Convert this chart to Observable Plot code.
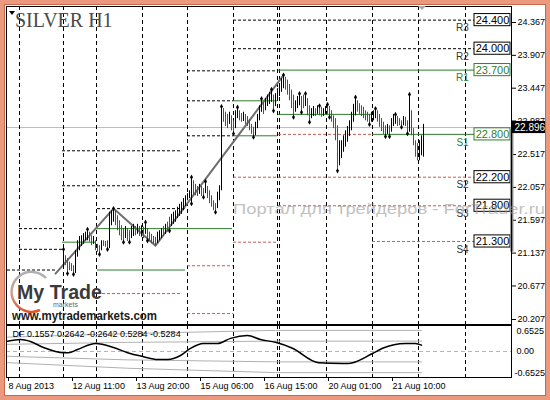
<!DOCTYPE html>
<html><head><meta charset="utf-8">
<script src="https://cdn.jsdelivr.net/npm/d3@7"></script>
<script src="https://cdn.jsdelivr.net/npm/@observablehq/plot@0.6"></script>
<style>
html,body{margin:0;padding:0;background:#fff;}
#wrap{position:relative;width:550px;height:400px;overflow:hidden;background:#fff;}
#main{position:absolute;left:0;top:0;}
#ind{position:absolute;left:0;top:324px;}
#overlay{position:absolute;left:0;top:0;pointer-events:none;}
#border{position:absolute;left:0;top:0;width:550px;height:400px;box-sizing:border-box;border:4px solid #ea987e;box-shadow:inset 0 0 0 1px #c8674b;pointer-events:none;}
</style></head><body>
<div id="wrap"><div id="main"></div><div id="ind"></div><svg id="overlay" width="550" height="400"></svg><div id="border"></div></div>
<script>
// ---------- DATA ----------
const chartTitle = "SILVER H1";
const barStart = 28; // first hourly slot
const barHigh = [
21.19,21.10,21.06,21.01,20.99,20.96,21.17,21.31,21.37,21.38,
21.41,21.43,21.47,21.43,21.38,21.37,21.31,21.26,21.24,21.31,
21.31,21.30,21.31,21.71,21.73,21.76,21.73,21.66,21.59,21.52,
21.48,21.51,21.48,21.45,21.51,21.54,21.51,21.54,21.51,21.52,
21.50,21.57,21.48,21.43,21.40,21.37,21.36,21.43,21.45,21.48,
21.51,21.54,21.57,21.64,21.68,21.71,21.73,21.78,21.82,21.85,
21.90,21.94,21.97,22.01,22.20,22.15,22.10,22.07,22.10,22.07,
22.04,22.14,22.07,22.01,21.94,21.87,21.83,21.99,22.08,23.19,
23.16,23.11,23.08,23.11,23.06,22.99,23.13,23.18,23.13,23.09,
23.11,23.08,23.05,23.01,22.94,22.90,22.97,23.08,23.20,23.30,
23.25,23.30,23.35,23.39,23.43,23.35,23.37,23.44,23.50,23.58,
23.63,23.60,23.56,23.50,23.42,23.35,23.27,23.33,23.37,23.33,
23.35,23.37,23.30,23.20,23.16,23.19,23.16,23.20,23.20,23.18,
23.16,23.19,23.22,23.19,23.13,23.06,23.02,22.92,22.71,22.71,
22.78,22.85,22.91,22.99,23.11,23.22,23.32,23.27,23.23,23.20,
23.18,23.13,23.11,23.08,23.11,23.13,23.16,23.13,23.08,23.02,
22.97,22.92,22.94,22.92,23.02,23.08,23.08,23.05,23.02,22.99,
23.05,23.04,22.99,23.36,23.13,22.88,22.71,22.67,22.71,22.78,
22.94];
const barLow = [
20.94,20.96,20.85,20.89,20.88,20.84,20.85,21.08,21.17,21.23,
21.26,21.31,21.31,21.29,21.24,21.26,21.17,21.15,21.12,21.17,
21.23,21.22,21.19,21.20,21.52,21.57,21.52,21.45,21.38,21.31,
21.29,21.34,21.30,21.29,21.34,21.37,21.38,21.40,21.37,21.36,
21.34,21.40,21.31,21.30,21.27,21.26,21.24,21.27,21.31,21.34,
21.37,21.40,21.43,21.45,21.51,21.54,21.57,21.62,21.65,21.68,
21.73,21.79,21.87,21.90,21.83,21.94,21.94,21.93,21.96,21.93,
21.92,21.97,21.90,21.83,21.78,21.73,21.71,21.76,21.87,22.01,
22.97,22.91,22.88,22.94,22.85,22.81,22.88,23.02,22.99,22.97,
22.98,22.94,22.91,22.85,22.80,22.76,22.78,22.88,22.99,23.11,
23.08,23.13,23.19,23.22,23.25,23.13,23.19,23.27,23.33,23.39,
23.44,23.42,23.35,23.27,23.16,23.04,23.11,23.16,23.20,23.11,
23.16,23.19,23.06,22.97,23.02,23.05,23.05,23.08,23.06,23.04,
23.05,23.08,23.08,23.04,22.97,22.88,22.71,22.29,22.36,22.46,
22.55,22.62,22.69,22.77,22.85,22.97,23.06,23.11,23.08,23.05,
23.02,22.99,22.97,22.94,22.97,22.99,23.02,22.97,22.90,22.84,
22.80,22.77,22.80,22.77,22.83,22.91,22.94,22.91,22.92,22.90,
22.92,22.91,22.81,22.83,22.78,22.64,22.48,22.43,22.43,22.50,
22.48];
const barDir = [
"uddddduuuu","uuuddudddu","ddduuudddd","dudduududu","duddddduuu",
"dudduuuuuu","uuuuudddud","duddddduuu","dddudduudd","uddddduuuu",
"duuuuduuuu","uddddduuud","dudduududd","uudddddduu","uuuuuuuddd",
"dddduuuddd","dduduuuddd","uddudddduu","u"].join("");
const fractalHighSlots = [28,40,53,69,92,99,107,115,127,132,138,146,149,156,160,174,184,194,201];
const fractalLowSlots = [30,33,46,50,58,61,70,81,92,98,104,113,123,133,143,147,151,161,165,181,189,191,197,200];
const zigzagSlot = [24,53,74,138];
const zigzagPrice = [20.85,21.76,21.24,23.63];
const separatorSlots = [6,28,44.5,67.5,90,113,135,136,159.5,182.5,205.5,229];
const levelPrice = [21.48,21.19,20.90,22.57,22.08,21.76,23.69,23.27,22.78,24.40,24.00,
                    21.29,21.48,20.90,23.27,22.78,23.70,23.08,22.80,
                    20.57,20.96,20.29,22.20,21.29,21.30,22.80,21.80];
const levelFrom  = [6,6,0,27.5,27.5,45,90,90,90,113,113,
                    27.5,45,45,113,113,135.5,135.5,182.5,
                    45,90,90,113,113,182.5,135.5,135.5];
const levelTo    = [28,28,24,87.5,87.5,90,135.5,113,113,233.5,233.5,
                    44.5,112.5,89,135,135,233.5,182.5,233.5,
                    87.5,113,113,233.5,135.5,233.5,182.5,233.5];
const levelKind  = "kkkkkkkkkkkggggggggrrrrrrrr";
const labelNames  = ["R3","R2","R1","S1","S2","S3","S4"];
const labelPrices = [24.40,24.00,23.70,22.80,22.20,21.80,21.30];
const labelGreen  = [false,false,true,true,false,false,false];
const priceTicks = [24.367,23.907,23.447,22.987,22.517,22.057,21.597,21.137,20.677,20.207];
const currentPrice = 22.896;
const axisBarRange = [21.15,22.87];
const dateTicks  = [0,32,64,96,128,160,192];
const dateLabels = ["8 Aug 2013","12 Aug 11:00","13 Aug 20:00","15 Aug 06:00","16 Aug 15:00","20 Aug 01:00","21 Aug 10:00"];
const dfTitle = "DF 0.1557 0.2642 -0.2642 0.5284 -0.5284";
const dfSlot  = [0,6.5,11.5,18,28,30.5,35,44,53,60,68,75,80,86.5,91.5,98,105,111.5,120,126.5,134,142.5,155.5,167.5,170.5,182.5,187.5,199,204,207];
const dfValue = [0.26,0.30,0.25,0.10,-0.03,-0.03,0.05,0.20,0.10,-0.03,-0.13,-0.20,-0.20,-0.10,0.08,0.20,0.20,0.33,0.40,0.30,0.23,0.08,-0.28,-0.30,-0.30,-0.05,0.08,0.20,0.20,0.16];
const bandSlot = [0,60,134,207];
const bandUpperOuter = [0.36,0.45,0.53,0.53];
const bandUpperInner = [0.18,0.23,0.26,0.26];
const bandLowerInner = [-0.12,-0.21,-0.26,-0.26];
const bandLowerOuter = [-0.28,-0.42,-0.53,-0.53];
const dfTickValues = [0.6525,0,-0.6525];
const dfTickLabels = ["0.6525","0.00","-0.6525"];
const watermark = "Портал для трейдеров - ForTrader.ru";

// ---------- TABLES ----------
const bars = barHigh.map((h,i)=>({t:barStart+i, high:h, low:barLow[i], up:barDir[i]==="u"}));
const barAt = t => bars[t-barStart];
const fractals = [...fractalHighSlots.map(t=>({t,p:barAt(t).high})), ...fractalLowSlots.map(t=>({t,p:barAt(t).low}))];
const zigzag = zigzagSlot.map((t,i)=>({t,p:zigzagPrice[i]}));
const levels = levelPrice.map((p,i)=>({price:p, from:levelFrom[i], to:levelTo[i], kind:levelKind[i]}));
const labels = labelNames.map((n,i)=>({name:n, price:labelPrices[i], green:labelGreen[i]}));
const df = dfSlot.map((t,i)=>({t,v:dfValue[i]}));
const bands = [bandUpperOuter,bandUpperInner,bandLowerInner,bandLowerOuter]
  .flatMap((arr,k)=>arr.map((v,i)=>({k,t:bandSlot[i],v})));

const GREEN="#2f7d2f", RED="#c85a5a", BAR_RED="#a52a2a";
const FONT="Liberation Sans, Arial, sans-serif";
const xDomain=[-0.5,252];

const main = Plot.plot({
  width:550, height:324, marginTop:6, marginBottom:0, marginLeft:6, marginRight:39,
  x:{domain:xDomain, axis:null},
  y:{domain:[20.137,24.591]},
  style:{fontFamily:FONT, fontSize:"9px", background:"transparent", overflow:"visible"},
  marks:[
    Plot.ruleY([currentPrice],{stroke:"#bdbdbd"}),
    Plot.ruleX(separatorSlots,{stroke:"#000", strokeDasharray:"4,3"}),
    Plot.ruleY(levels,{filter:d=>d.kind==="k", y:"price", x1:"from", x2:"to", stroke:"#000", strokeDasharray:"3,2"}),
    Plot.ruleY(levels,{filter:d=>d.kind==="g", y:"price", x1:"from", x2:"to", stroke:GREEN}),
    Plot.ruleY(levels,{filter:d=>d.kind==="r", y:"price", x1:"from", x2:"to", stroke:RED, strokeDasharray:"3,2"}),
    Plot.line(zigzag,{x:"t", y:"p", stroke:"#6e6e6e", strokeWidth:2}),
    Plot.ruleX(bars,{filter:d=>d.up, x:"t", y1:"low", y2:"high", stroke:"#000"}),
    Plot.ruleX(bars,{filter:d=>!d.up, x:"t", y1:"low", y2:"high", stroke:BAR_RED}),
    Plot.dot(fractals,{x:"t", y:"p", symbol:"diamond", r:1.6, fill:"#000", stroke:null}),
    Plot.rect(labels,{x1:()=>233.5, x2:()=>251.5, y1:d=>d.price-0.085, y2:d=>d.price+0.085, fill:"#fff", stroke:d=>d.green?GREEN:"#000"}),
    Plot.text(labels,{x:()=>242.5, y:"price", text:d=>d.price.toFixed(3), fill:d=>d.green?GREEN:"#000", fontSize:11}),
    Plot.text(labels,{x:()=>227.5, y:"price", text:"name", dy:8, fill:d=>d.green?GREEN:"#333", fontSize:10}),
    Plot.axisY({ticks:priceTicks, anchor:"right", tickSize:4, tickPadding:2, tickFormat:d=>d.toFixed(3), fontSize:9, label:null}),
    Plot.rect([axisBarRange],{x1:()=>251.6, x2:()=>253.2, y1:d=>d[0], y2:d=>d[1], fill:"#858585"}),
    Plot.rect([currentPrice],{x1:()=>252, x2:()=>270.5, y1:d=>d-0.085, y2:d=>d+0.085, fill:"#000"}),
    Plot.text([currentPrice],{x:()=>252, y:d=>d, text:d=>d.toFixed(3), dx:3, textAnchor:"start", fill:"#fff", fontSize:10}),
    Plot.frame({stroke:"#000"})
  ]
});
document.getElementById("main").appendChild(main);

const ind = Plot.plot({
  width:550, height:76, marginTop:1, marginBottom:23, marginLeft:6, marginRight:39,
  x:{domain:xDomain},
  y:{domain:[-0.6525,0.6525], axis:null},
  style:{fontFamily:FONT, fontSize:"9px", background:"transparent", overflow:"visible"},
  marks:[
    Plot.ruleY([0],{stroke:"#b5b5b5", strokeDasharray:"4,3"}),
    Plot.ruleX(separatorSlots,{stroke:"#000", strokeDasharray:"4,3"}),
    Plot.line(bands,{x:"t", y:"v", z:"k", stroke:"#b0b0b0", strokeWidth:1}),
    Plot.line(df,{x:"t", y:"v", stroke:"#000", strokeWidth:1.5, curve:"monotone-x"}),
    Plot.text([dfTitle],{frameAnchor:"top-left", text:d=>d, dx:6, dy:5, lineAnchor:"top", textAnchor:"start", fontSize:9}),
    Plot.text([0],{x:()=>252, y:()=>dfTickValues[0], text:()=>dfTickLabels[0], dx:5, dy:2, textAnchor:"start", lineAnchor:"top", fontSize:9}),
    Plot.text([0],{x:()=>252, y:()=>dfTickValues[1], text:()=>dfTickLabels[1], dx:5, textAnchor:"start", fontSize:9}),
    Plot.text([0],{x:()=>252, y:()=>dfTickValues[2], text:()=>dfTickLabels[2], dx:3, dy:-2, textAnchor:"start", lineAnchor:"bottom", fontSize:9}),
    Plot.axisX({ticks:dateTicks, anchor:"bottom", tickSize:4, tickPadding:1, textAnchor:"start", dx:1, fontSize:9,
      tickFormat:d=>dateLabels[dateTicks.indexOf(d)], label:null}),
    Plot.frame({stroke:"#000"})
  ]
});
document.getElementById("ind").appendChild(ind);

// ---------- decorations ----------
const ov = d3.select("#overlay");
ov.append("path").attr("d","M9 11 L15 11 L12 15 Z").attr("fill","#000");
ov.append("path").attr("d","M418 6 L426 6 L422 10 Z").attr("fill","#aaa");
ov.append("text").attr("x",15).attr("y",27).attr("font-family","Liberation Serif, Times New Roman, serif")
  .attr("font-size",20).attr("fill","#4a4a4a").text(chartTitle);
const defs = ov.append("defs");
const g = defs.append("linearGradient").attr("id","ring").attr("x1","0").attr("y1","0").attr("x2","0").attr("y2","1");
g.append("stop").attr("offset","0").attr("stop-color","#b0b0b0");
g.append("stop").attr("offset","0.55").attr("stop-color","#c8a090");
g.append("stop").attr("offset","1").attr("stop-color","#e0542c");
ov.append("path").attr("d","M46 278 A20 20 0 1 0 40 310").attr("fill","none").attr("stroke","url(#ring)").attr("stroke-width",2.5);
ov.append("text").attr("x",17).attr("y",299).attr("font-family",FONT).attr("font-weight","bold").attr("font-size",21)
  .attr("fill","#3a3a3a").attr("textLength",85).attr("lengthAdjust","spacingAndGlyphs").text("My Trade");
ov.append("text").attr("x",53).attr("y",307).attr("font-family",FONT).attr("font-size",7).attr("fill","#666").text("markets");
ov.append("text").attr("x",12).attr("y",320).attr("font-family",FONT).attr("font-weight","bold").attr("font-size",12)
  .attr("fill","#1a1a1a").attr("textLength",145).attr("lengthAdjust","spacingAndGlyphs").text("www.mytrademarkets.com");
ov.append("text").attr("x",233).attr("y",214).attr("font-family",FONT).attr("font-size",15).attr("fill","#999")
  .attr("opacity",0.6).attr("textLength",312).attr("lengthAdjust","spacingAndGlyphs").text(watermark);
</script>
</body></html>
